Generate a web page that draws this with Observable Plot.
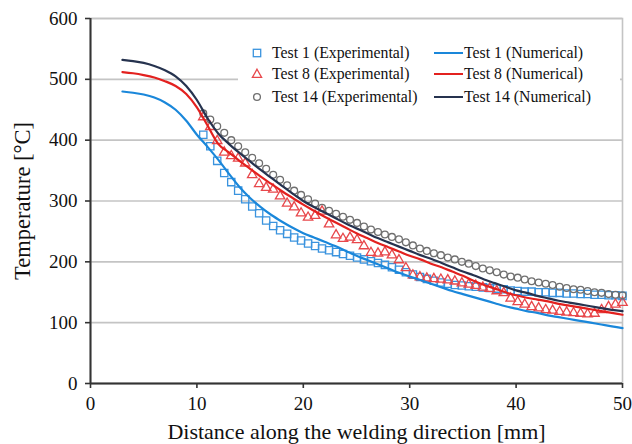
<!DOCTYPE html>
<html>
<head>
<meta charset="utf-8">
<script src="https://cdn.jsdelivr.net/npm/d3@7"></script>
<script src="https://cdn.jsdelivr.net/npm/@observablehq/plot@0.6"></script>
<style>
  html, body { margin: 0; padding: 0; background: #fff; }
  #wrap { position: relative; width: 632px; height: 444px; font-family: "Liberation Serif", "Times New Roman", serif; }
  #wrap svg text { font-family: "Liberation Serif", "Times New Roman", serif; }
  #legend { position: absolute; left: 238px; top: 32px; width: 382px; height: 80px; background: #fff; }
  .li { position: absolute; font-size: 15.8px; color: #111; line-height: 16px; white-space: nowrap; }
  .mk { position: absolute; }
</style>
</head>
<body>
<div id="wrap"></div>
<script>
// Numerical curves (x in mm, temperature in °C)
const numX = [3,4,5,6,7,8,9,10,11,12,13,14,15,16,17,18,19,20,21,22,23,24,25,26,27,28,29,30,31,32,33,34,35,36,37,38,39,40,41,42,43,44,45,46,47,48,49,50];
const test1Num = [480,478,475,470,462,450,432,409,389,368,345,323,305,290,277,266,256,247,240,233,226,218,210,203,196,189,182,176,170,164,158,152,147,142,137,132,127,123,119,116,112,109,106,103,100,97,94,91];
const test8Num = [512,510,507,503,497,489,476,454,424,394,380,366,353,340,328,316,305,294,284,274,265,256,247,239,231,224,217,210,204,197,191,184,177,169,162,156,150,145,141,138,135,131,128,125,122,119,116,113];
const test14Num = [532,530,527,522,515,505,489,466,436,411,394,379,365,351,338,325,312,300,290,281,272,263,255,247,239,232,225,218,211,205,198,191,184,178,171,165,159,153,149,144,140,136,133,130,127,124,121,119];

// Experimental points
const expX = [10.6,11.26,11.91,12.57,13.23,13.88,14.54,15.2,15.85,16.51,17.17,17.82,18.48,19.14,19.79,20.45,21.11,21.76,22.42,23.08,23.73,24.39,25.05,25.7,26.36,27.02,27.67,28.33,28.99,29.64,30.3,30.96,31.61,32.27,32.93,33.58,34.24,34.9,35.55,36.21,36.87,37.52,38.18,38.84,39.49,40.15,40.81,41.46,42.12,42.78,43.43,44.09,44.75,45.4,46.06,46.72,47.37,48.03,48.69,49.34,50.0];
const test1Exp = [409,390,366,346,331,317,303,291,280,268,259,252,246,240,235,230,226,222,219,216,213,210,207,204,201,198,195,191,187,183,179,175,172,169,166,164,162,161,160,159,158,157,156,155,153,152,151,151,150,150,149,149,148,148,147,147,146,146,145,145,144];
const test8Exp = [438,422,399,380,374,370,362,343,328,322,319,308,296,290,280,273,276,283,262,244,238,240,236,226,215,214,216,211,203,190,178,175,173,172,171,170,168,165,163,161,158,156,152,149,140,134,130,126,124,121,120,118,117,116,115,114,115,121,126,130,133];
const test14Exp = [444,434,423,412,400,390,380,371,362,353,343,335,326,317,310,303,296,289,284,279,274,269,264,258,253,249,245,241,237,232,227,222,218,214,211,207,204,200,197,193,189,186,183,179,176,174,171,168,166,164,162,159,157,155,154,152,150,149,147,146,145];

const xTicks = [0,10,20,30,40,50];
const yTicks = [0,100,200,300,400,500,600];

const seriesNames = ["Test 1", "Test 8", "Test 14"];
const lineColors = ["#1a87da", "#e3211f", "#26334f"];
const markColors = ["#3a93de", "#e8474b", "#6f6f6f"];

const numRows = [];
[test1Num, test8Num, test14Num].forEach((arr, i) => arr.forEach((t, j) => numRows.push({series: seriesNames[i], x: numX[j], t})));
const expRows = [];
[test1Exp, test8Exp, test14Exp].forEach((arr, i) => arr.forEach((t, j) => expRows.push({series: seriesNames[i], x: expX[j], t})));

const font = '"Liberation Serif", "Times New Roman", serif';

const chart = Plot.plot({
  width: 632,
  height: 444,
  marginLeft: 90,
  marginRight: 10,
  marginTop: 18,
  marginBottom: 61,
  style: { fontFamily: font, fontSize: "16px", color: "#111", background: "#fff", overflow: "visible" },
  x: { domain: [0, 50], ticks: xTicks, label: null },
  y: { domain: [0, 600], ticks: yTicks, label: null },
  marks: [
    Plot.gridY(yTicks, { stroke: "#c4c4c4", strokeOpacity: 1, strokeWidth: 1.6 }),
    Plot.frame({ stroke: "#c4c4c4", strokeWidth: 1.6 }),
    Plot.ruleY([0], { stroke: "#333", strokeWidth: 2 }),
    Plot.ruleX([0], { stroke: "#333", strokeWidth: 2 }),
    Plot.axisX({ ticks: xTicks, tickSize: 5, tickPadding: 8, stroke: "#333", strokeWidth: 1.6, fontSize: 19, label: null }),
    Plot.axisY({ ticks: yTicks, tickSize: 5, tickPadding: 8, stroke: "#333", strokeWidth: 1.6, fontSize: 19, label: null }),
    Plot.dot(expRows.filter(d => d.series === "Test 1"), { x: "x", y: "t", symbol: "square", r: 4.1, stroke: markColors[0], strokeWidth: 1.3, fill: "none" }),
    Plot.dot(expRows.filter(d => d.series === "Test 8"), { x: "x", y: "t", symbol: "triangle", r: 3.5, stroke: markColors[1], strokeWidth: 1.3, fill: "none" }),
    Plot.dot(expRows.filter(d => d.series === "Test 14"), { x: "x", y: "t", symbol: "circle", r: 3.4, stroke: markColors[2], strokeWidth: 1.3, fill: "none" }),
    Plot.line(numRows, { x: "x", y: "t", z: "series", stroke: d => lineColors[seriesNames.indexOf(d.series)], strokeWidth: 2.2, curve: "monotone-x" }),
    Plot.text(["Temperature [°C]"], { frameAnchor: "left", rotate: -90, dx: -68, fontSize: 22.5, fill: "#111", textAnchor: "middle" }),
    Plot.text(["Distance along the welding direction [mm]"], { frameAnchor: "bottom", dy: 48.5, fontSize: 22, fill: "#111", textAnchor: "middle", lineAnchor: "middle" })
  ]
});

const wrap = document.getElementById("wrap");
wrap.appendChild(chart);

// Legend (inside plot, white box)
const legend = document.createElement("div");
legend.id = "legend";
wrap.appendChild(legend);
const symbols = ["square", "triangle", "circle"];
const rowY = [21, 41.5, 64.5]; // centers relative to legend box top
rowY.forEach((cy, i) => {
  const s = document.createElementNS("http://www.w3.org/2000/svg", "svg");
  s.setAttribute("width", 14); s.setAttribute("height", 14);
  s.classList.add("mk");
  s.style.left = (257 - 238 - 7) + "px";
  s.style.top = (cy - 7) + "px";
  let el;
  if (symbols[i] === "square") {
    el = document.createElementNS("http://www.w3.org/2000/svg", "rect");
    el.setAttribute("x", 3.3); el.setAttribute("y", 3.3); el.setAttribute("width", 7.4); el.setAttribute("height", 7.4);
  } else if (symbols[i] === "triangle") {
    el = document.createElementNS("http://www.w3.org/2000/svg", "path");
    el.setAttribute("d", "M7,2.2 L11.6,10.4 L2.4,10.4 Z");
  } else {
    el = document.createElementNS("http://www.w3.org/2000/svg", "circle");
    el.setAttribute("cx", 7); el.setAttribute("cy", 7); el.setAttribute("r", 3.4);
  }
  el.setAttribute("fill", "none"); el.setAttribute("stroke", markColors[i]); el.setAttribute("stroke-width", 1.3);
  s.appendChild(el);
  legend.appendChild(s);

  const t1 = document.createElement("div");
  t1.className = "li";
  t1.textContent = seriesNames[i] + " (Experimental)";
  t1.style.left = (272 - 238) + "px";
  t1.style.top = (cy - 8) + "px";
  legend.appendChild(t1);

  const ln = document.createElement("div");
  ln.style.position = "absolute";
  ln.style.left = (434 - 238) + "px";
  ln.style.top = (cy - 1) + "px";
  ln.style.width = "29px";
  ln.style.height = "2.2px";
  ln.style.background = lineColors[i];
  legend.appendChild(ln);

  const t2 = document.createElement("div");
  t2.className = "li";
  t2.textContent = seriesNames[i] + " (Numerical)";
  t2.style.left = (464 - 238) + "px";
  t2.style.top = (cy - 8) + "px";
  legend.appendChild(t2);
});
</script>
</body>
</html>
